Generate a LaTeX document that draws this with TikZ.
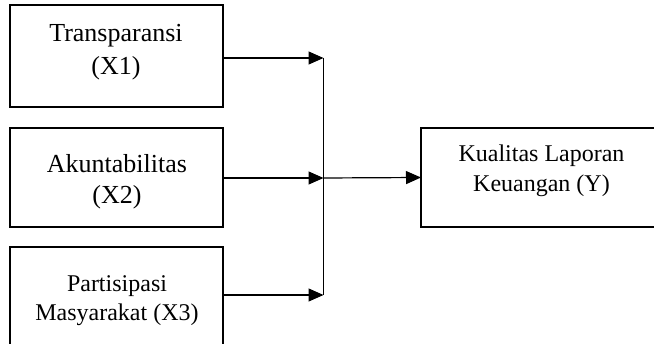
\documentclass[tikz,border=0pt]{standalone}
\usepackage{fontspec}
\setmainfont{Liberation Serif}
\usetikzlibrary{arrows.meta}
\begin{document}
\begin{tikzpicture}[x=1pt,y=-1pt,
  box/.style={draw=black,line width=2.4pt,rectangle,inner sep=0pt,outer sep=0pt},
  lbl/.style={anchor=base,inner sep=0pt},
  big/.style={font=\fontsize{26}{30}\selectfont},
  small/.style={font=\fontsize{24}{28}\selectfont},
  conn/.style={draw=black,line width=1.2pt},
  arr/.style={conn,-{Triangle[length=15pt,width=13pt]}}]
\useasboundingbox (0,0) rectangle (654,344);
\clip (0,0) rectangle (654,344);
% boxes
\node[box,minimum width=213pt,minimum height=102pt] (b1) at (116.5,56) {};
\node[box,minimum width=213pt,minimum height=99pt] (b2) at (116.5,177.5) {};
\node[box,minimum width=213pt,minimum height=113pt] (b3) at (116.5,303.5) {};
\node[box,minimum width=249pt,minimum height=99pt] (by) at (545.5,177.5) {};
% texts
\node[lbl,big] (t1a) at (116,41.7) {Transparansi};
\node[lbl,big] (t1b) at (116,75) {(X1)};
\node[lbl,big] (t2a) at (117,172.7) {Akuntabilitas};
\node[lbl,big] (t2b) at (117,204) {(X2)};
\node[lbl,small] (t3a) at (117,292) {Partisipasi};
\node[lbl,small] (t3b) at (117,320.5) {Masyarakat (X3)};
\node[lbl,small] (tya) at (541.5,161.7) {Kualitas Laporan};
\node[lbl,small] (tyb) at (541.5,191.7) {Keuangan (Y)};
% junctions
\coordinate (j1) at (323.5,58);
\coordinate (j2) at (323.5,178);
\coordinate (j3) at (323.5,295);
% connectors
\draw[arr] (b1.east |- j1) -- (j1);
\draw[arr] (b2.east |- j2) -- (j2);
\draw[arr] (b3.east |- j3) -- (j3);
\draw[conn] (j1) -- (j3);
\draw[arr] (j2) -- (by.west);
\end{tikzpicture}
\end{document}
